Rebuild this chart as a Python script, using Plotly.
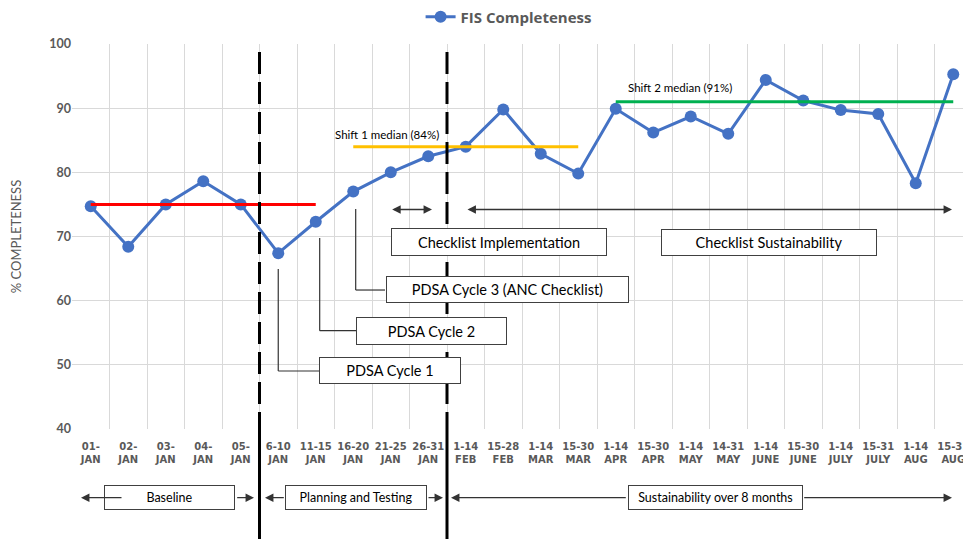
import plotly.graph_objects as go

# ---- data ----
periods = ["01-", "02-", "03-", "04-", "05-", "6-10", "11-15", "16-20", "21-25", "26-31",
           "1-14", "15-28", "1-14", "15-30", "1-14", "15-30", "1-14", "14-31", "1-14", "15-30",
           "1-14", "15-31", "1-14", "15-31"]
months = ["JAN", "JAN", "JAN", "JAN", "JAN", "JAN", "JAN", "JAN", "JAN", "JAN",
          "FEB", "FEB", "MAR", "MAR", "APR", "APR", "MAY", "MAY", "JUNE", "JUNE",
          "JULY", "JULY", "AUG", "AUG"]
completeness = [74.7, 68.4, 75.0, 78.6, 75.0, 67.4, 72.3, 77.0, 80.0, 82.5,
                84.0, 89.8, 82.9, 79.8, 89.9, 86.2, 88.7, 86.0, 94.4, 91.2,
                89.7, 89.1, 78.3, 95.3]
baseline_median = 75
shift1_median = 84
shift2_median = 91
baseline_span = (0, 6)
shift1_span = (7, 13)
shift2_span = (14, 23)
phase_breaks = [4.5, 9.5]

labels = [f"{p}<br>{m}" for p, m in zip(periods, months)]

GREY = "#595959"
BLUE = "#4472C4"
DARK = "#333333"
FONT = "Lato"

fig = go.Figure()

fig.add_trace(go.Scatter(x=labels, y=completeness, mode="lines+markers",
                         name="FIS Completeness",
                         line=dict(color=BLUE, width=3),
                         marker=dict(color=BLUE, size=12)))

# median lines
for med, span, col in [(baseline_median, baseline_span, "#FF0000"),
                       (shift1_median, shift1_span, "#FFC000"),
                       (shift2_median, shift2_span, "#00B050")]:
    fig.add_trace(go.Scatter(x=[labels[span[0]], labels[span[1]]], y=[med, med],
                             mode="lines", line=dict(color=col, width=3),
                             showlegend=False, hoverinfo="skip"))

shapes = []
for xb in phase_breaks:
    shapes.append(dict(type="line", xref="x", yref="y", x0=xb, x1=xb, y0=98.75, y1=40,
                       line=dict(color="black", width=3, dash="22px,8px"), layer="above"))
    shapes.append(dict(type="line", xref="x", yref="paper", x0=xb, x1=xb, y0=0, y1=-0.3,
                       line=dict(color="black", width=3), layer="above"))

# elbow connectors
connectors = [(5.0, 64.94, 49.04, 6.113),
              (6.105, 69.77, 55.32, 7.073),
              (7.065, 74.29, 61.66, 7.847)]
for xv, ytop, ybot, xend in connectors:
    shapes.append(dict(type="line", xref="x", yref="y", x0=xv, x1=xv, y0=ytop, y1=ybot,
                       line=dict(color=DARK, width=1.2), layer="above"))
    shapes.append(dict(type="line", xref="x", yref="y", x0=xv, x1=xend, y0=ybot, y1=ybot,
                       line=dict(color=DARK, width=1.2), layer="above"))

annotations = []

def box(text, x, y, w, h, yref="y", size=14.5):
    annotations.append(dict(text=text, x=x, y=y, xref="x", yref=yref, showarrow=False,
                            width=w - 2, height=h - 2, borderpad=0, borderwidth=1,
                            bordercolor="#404040", bgcolor="white",
                            font=dict(family=FONT, size=size, color="black"),
                            xanchor="center", yanchor="middle"))

box("Checklist Implementation", 10.88, 69.17, 216, 28)
box("Checklist Sustainability", 18.09, 69.07, 216, 27)
box("PDSA Cycle 3 (ANC Checklist)", 11.1, 61.74, 243, 27)
box("PDSA Cycle 2", 9.09, 55.35, 151, 28)
box("PDSA Cycle 1", 7.99, 49.07, 142, 27)
box("Baseline", 2.11, -0.178, 131, 25, yref="paper", size=12.5)
box("Planning and Testing", 7.07, -0.178, 142, 25, yref="paper", size=12.5)
box("Sustainability over 8 months", 16.65, -0.178, 175, 25, yref="paper", size=12.5)

def arrow(head, tail, y, yref="y", both=False):
    d = dict(text="", x=head, ax=tail, axref="x", xref="x", y=y, yref=yref,
             showarrow=True, arrowhead=2, arrowsize=1.3, arrowwidth=1.3,
             arrowcolor=DARK, standoff=0, startstandoff=0)
    if both:
        d["arrowside"] = "end+start"
        d["startarrowhead"] = 2
        d["startarrowsize"] = 1.3
    if yref == "y":
        d["ay"] = y
        d["ayref"] = "y"
    else:
        d["ay"] = 0
        d["ayref"] = "pixel"
    annotations.append(d)

arrow(9.1, 7.999, 74.21, both=True)
arrow(22.967, 10.007, 74.21, both=True)
yb = -0.1784
arrow(-0.26, 0.86, yb, yref="paper")
arrow(4.353, 3.865, yb, yref="paper")
arrow(4.647, 5.188, yb, yref="paper")
arrow(9.393, 8.967, yb, yref="paper")
arrow(9.607, 14.308, yb, yref="paper")
arrow(22.967, 18.985, yb, yref="paper")

for txt, xl, yv in [("Baseline median (75%)", -0.847, 77.36),
                    ("Shift 1 median (84%)", 6.46, 85.87),
                    ("Shift 2 median (91%)", 14.265, 93.19)]:
    annotations.append(dict(text=txt, x=xl, y=yv, xref="x", yref="y", showarrow=False,
                            xanchor="left", yanchor="middle",
                            font=dict(family=FONT, size=11.5, color="black")))

fig.update_layout(
    width=963, height=539,
    margin=dict(l=72, r=0, t=44, b=110),
    paper_bgcolor="white", plot_bgcolor="white",
    shapes=shapes, annotations=annotations,
    showlegend=True,
    legend=dict(orientation="h", x=0.49, xanchor="center", y=1.113, yanchor="top",
                font=dict(family="Open Sans", size=15, color=GREY, weight="bold"),
                bgcolor="rgba(0,0,0,0)", itemwidth=30),
    xaxis=dict(type="category", categoryorder="array", categoryarray=labels,
               range=[-0.5, 23.26], tickson="boundaries", automargin=False,
               showgrid=True, gridcolor="#D9D9D9", gridwidth=1, ticks="",
               showline=False, zeroline=False, ticklabelstandoff=10,
               tickfont=dict(family="DejaVu Sans", size=10, color=GREY, weight="bold"),
               tickangle=0),
    yaxis=dict(range=[40, 100], dtick=10, showgrid=True, gridcolor="#D9D9D9", gridwidth=1,
               zeroline=False, showline=False, ticks="", automargin=False,
               tickfont=dict(family=FONT, size=12.5, color=GREY, weight="bold"),
               title=dict(text="% COMPLETENESS", standoff=24,
                          font=dict(family=FONT, size=13, color=GREY))),
)

fig.write_html("out.html", config={"displayModeBar": False},
               post_script="document.body.style.margin='0';")
